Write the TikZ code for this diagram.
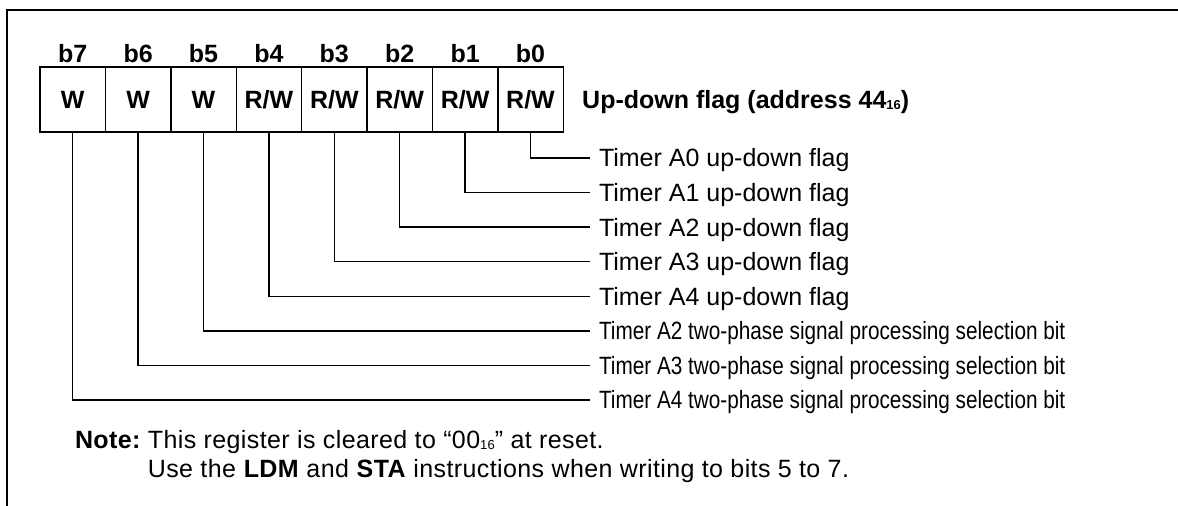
\documentclass[tikz,border=0pt]{standalone}
\usepackage{fontspec}
\setmainfont{Liberation Sans}
\newfontfamily\narrowfont{Liberation Sans}[FakeStretch=0.83]
\newfontfamily\notefont{Liberation Sans}[LetterSpace=1.6]
\usetikzlibrary{positioning}
\tikzset{
  every picture/.style={line join=miter},
}
\newcommand{\hexsub}[1]{\raisebox{-1pt}{\fontsize{13}{13}\selectfont #1}}

\begin{document}
\begin{tikzpicture}[x=1pt, y=-1pt,
  cell/.style={draw, line width=1.4pt, minimum width=65.4pt, minimum height=65pt, inner sep=0pt, outer sep=0pt, text height=17.9pt, text depth=0pt, font=\fontsize{25}{25}\selectfont\bfseries},
  bitlbl/.style={inner sep=0pt, outer sep=0pt, text height=17.9pt, text depth=0pt, font=\fontsize{25}{25}\selectfont\bfseries},
  flag/.style={anchor=west, inner sep=0pt, outer xsep=9pt, outer ysep=0pt, text height=17.9pt, text depth=0pt, font=\fontsize{25}{25}\selectfont},
  narrow/.style={font=\fontsize{25}{25}\narrowfont},
  note/.style={anchor=base west, inner sep=0pt, outer sep=0pt, font=\fontsize{25}{25}\notefont},
  lead/.style={line width=1.3pt},
  frame/.style={line width=2.4pt}
]
  \useasboundingbox (0,0) rectangle (1178,506);
  \draw[frame] (7,506) -- (7,10) -- (1178,10);

  \node[cell, anchor=north west] (c7) at (40,67) {W};
  \node[cell, right=0pt of c7] (c6) {W};
  \node[cell, right=0pt of c6] (c5) {W};
  \node[cell, right=0pt of c5] (c4) {R/W};
  \node[cell, right=0pt of c4] (c3) {R/W};
  \node[cell, right=0pt of c3] (c2) {R/W};
  \node[cell, right=0pt of c2] (c1) {R/W};
  \node[cell, right=0pt of c1] (c0) {R/W};
  \foreach \i in {0,...,7}
    \node[bitlbl, above=5pt of c\i] (b\i) {b\i};
  \node[bitlbl, right=19pt of c0] (title) {Up-down flag (address 44\hexsub{16})};

  \foreach \i/\tmr in {0/A0, 1/A1, 2/A2, 3/A3, 4/A4}
    \node[flag] (f\i) at (590,{158+34.57*\i}) {Timer \tmr\ up-down flag};
  \foreach \i/\tmr in {5/A2, 6/A3, 7/A4}
    \node[flag, narrow] (f\i) at (590,{158+34.57*\i}) {Timer \tmr\ two-phase signal processing selection bit};
  \foreach \i in {0,...,7}
    \draw[lead] (c\i.south) |- (f\i.west);

  \node[note] (notehd) at (75,448) {\textbf{Note:}};
  \node[note] (note1) at ([xshift=7pt]notehd.base east) {This register is cleared to “00\hexsub{16}” at reset.};
  \node[note] (note2) at ([yshift=-29pt]note1.base west) {Use the \textbf{LDM} and \textbf{STA} instructions when writing to bits 5 to 7.};
\end{tikzpicture}
\end{document}
